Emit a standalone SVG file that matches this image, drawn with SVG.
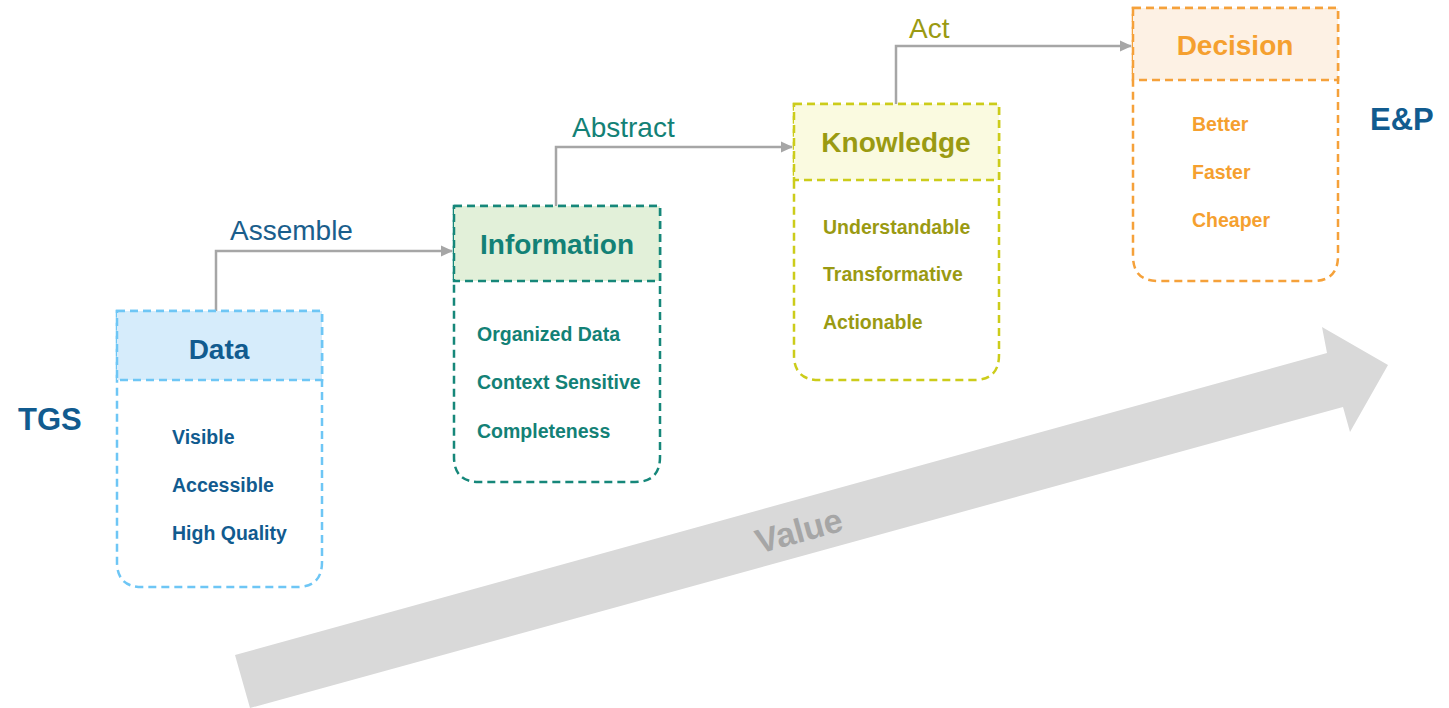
<svg xmlns="http://www.w3.org/2000/svg" width="1449" height="708" viewBox="0 0 1449 708">
  <defs>
    <marker id="arr" markerWidth="12" markerHeight="12" refX="11" refY="6" orient="auto" markerUnits="userSpaceOnUse">
      <path d="M0,0.5 L12,6 L0,11.5 z" fill="#a6a6a6"/>
    </marker>
  </defs>
  <style>
    text { font-family: "Liberation Sans", Arial, sans-serif; }
    .title { font-weight: bold; font-size: 28px; text-anchor: middle; }
    .item { font-weight: bold; font-size: 19.5px; }
    .lbl { font-size: 28px; }
    .box { fill: none; stroke-width: 2.5; stroke-dasharray: 8 5; }
    .hdr { stroke-width: 2.5; stroke-dasharray: 8 5; }
    .conn { fill: none; stroke: #a6a6a6; stroke-width: 2.5; }
    .side { font-weight: bold; font-size: 31px; fill: #115b8f; }
  </style>
  <rect width="1449" height="708" fill="#ffffff"/>

  <g id="value-arrow">
    <polygon points="235,655 1327,353 1322,327 1388,365 1350,432 1343,407 250,708" fill="#d9d9d9"/>
    <text x="802" y="542" transform="rotate(-15.4 802 542)" text-anchor="middle" font-weight="bold" font-size="34" fill="#a6a6a6">Value</text>
  </g>

  <g id="connectors">
    <path class="conn" d="M216,311 V251 H452" marker-end="url(#arr)"/>
    <path class="conn" d="M556,206 V147 H792" marker-end="url(#arr)"/>
    <path class="conn" d="M896,104 V46 H1131" marker-end="url(#arr)"/>
    <text class="lbl" x="230" y="240" fill="#1a5e8c">Assemble</text>
    <text class="lbl" x="572" y="137" fill="#138176">Abstract</text>
    <text class="lbl" x="909" y="38" fill="#9a9a12">Act</text>
  </g>

  <g id="node-data">
    <path class="box" stroke="#6ec6f5" d="M117,311 H322 V562 Q322,587 297,587 H142 Q117,587 117,562 Z"/>
    <rect class="hdr" x="117" y="311" width="205" height="69" fill="#d6ecfb" stroke="#6ec6f5"/>
    <text class="title" x="219" y="359" fill="#115b8f">Data</text>
    <text class="item" x="172" y="444" fill="#115b8f">Visible</text>
    <text class="item" x="172" y="492" fill="#115b8f">Accessible</text>
    <text class="item" x="172" y="540" fill="#115b8f">High Quality</text>
  </g>

  <g id="node-information">
    <path class="box" stroke="#16877a" d="M454,206 H660 V457 Q660,482 635,482 H479 Q454,482 454,457 Z"/>
    <rect class="hdr" x="454" y="206" width="206" height="75" fill="#e2f0d9" stroke="#16877a"/>
    <text class="title" x="557" y="254" fill="#138176">Information</text>
    <text class="item" x="477" y="341" fill="#138176">Organized Data</text>
    <text class="item" x="477" y="389" fill="#138176">Context Sensitive</text>
    <text class="item" x="477" y="438" fill="#138176">Completeness</text>
  </g>

  <g id="node-knowledge">
    <path class="box" stroke="#cccc1a" d="M794,104 H999 V355 Q999,380 974,380 H819 Q794,380 794,355 Z"/>
    <rect class="hdr" x="794" y="104" width="205" height="76" fill="#fafae0" stroke="#cccc1a"/>
    <text class="title" x="896" y="152" fill="#9a9a12">Knowledge</text>
    <text class="item" x="823" y="234" fill="#9a9a12">Understandable</text>
    <text class="item" x="823" y="281" fill="#9a9a12">Transformative</text>
    <text class="item" x="823" y="329" fill="#9a9a12">Actionable</text>
  </g>

  <g id="node-decision">
    <path class="box" stroke="#f5a13a" d="M1133,8 H1338 V256 Q1338,281 1313,281 H1158 Q1133,281 1133,256 Z"/>
    <rect class="hdr" x="1133" y="8" width="205" height="72" fill="#fdf1e4" stroke="#f5a13a"/>
    <text class="title" x="1235" y="55" fill="#f5a02f">Decision</text>
    <text class="item" x="1192" y="131" fill="#f5a02f">Better</text>
    <text class="item" x="1192" y="179" fill="#f5a02f">Faster</text>
    <text class="item" x="1192" y="227" fill="#f5a02f">Cheaper</text>
  </g>

  <g id="label-tgs">
    <text class="side" x="18" y="430">TGS</text>
  </g>
  <g id="label-ep">
    <text class="side" x="1370" y="130">E&amp;P</text>
  </g>
</svg>
